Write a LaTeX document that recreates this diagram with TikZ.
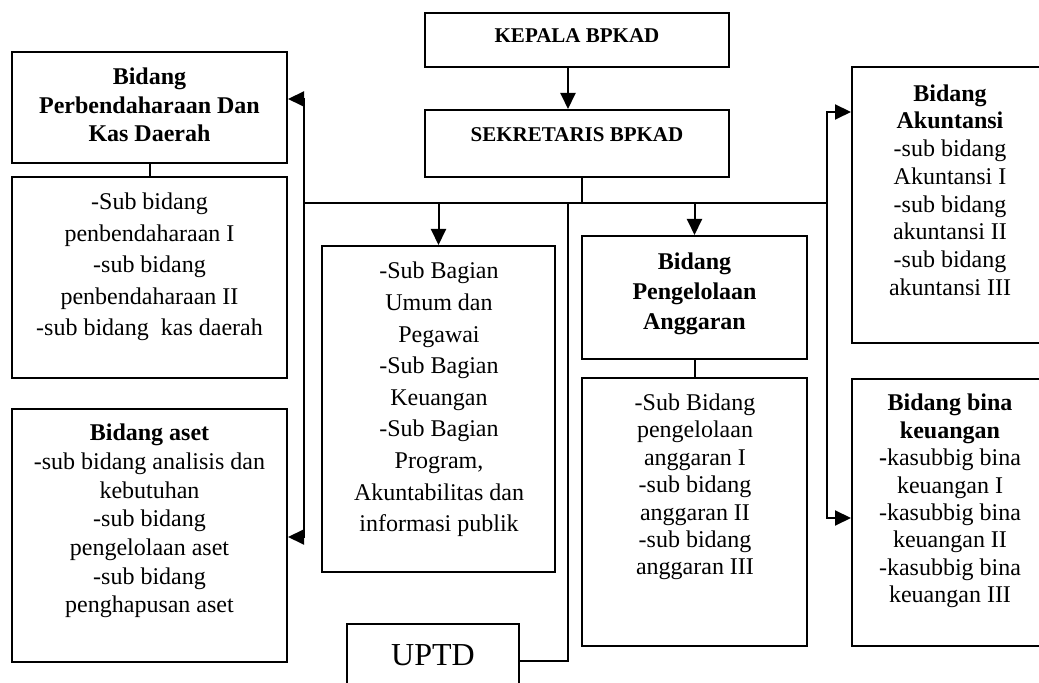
\documentclass[tikz,border=0pt]{standalone}
\usepackage{fontspec}
\setmainfont{Liberation Serif}
\usetikzlibrary{arrows.meta}
\tikzset{
    box/.style={draw, line width=1pt, inner sep=0pt},
    txt/.style={align=center, inner sep=0pt, font=\fontsize{12}{#1}\selectfont},
    txt/.default=14.4,
    head/.style={inner sep=0pt, font=\fontsize{10.5}{12}\selectfont\bfseries},
    arr/.style={line width=1pt, -{Triangle[length=8pt,width=7.5pt]}},
    lin/.style={line width=1pt}
}

\begin{document}
\begin{tikzpicture}[x=0.5pt, y=-0.5pt]
    \useasboundingbox (0,0) rectangle (1039,683);

    \node[box, minimum width=152pt, minimum height=27pt] at (577, 40)(kepala) {};
    \node[head] at (577, 35.5)(kepalaT) {KEPALA BPKAD};
    \node[box, minimum width=152pt, minimum height=33.5pt] at (577, 143.5)(sekre) {};
    \node[head] at (577, 134.5)(sekreT) {SEKRETARIS BPKAD};

    \node[box, minimum width=137.5pt, minimum height=55.5pt] at (149.5, 107.5)(perben) {};
    \node[txt=14.25] at (149.5, 105)(perbenT) {\textbf{Bidang}\\\textbf{Perbendaharaan Dan}\\\textbf{Kas Daerah}};
    \node[box, minimum width=137.5pt, minimum height=100.5pt] at (149.5, 277.5)(perbenSub) {};
    \node[txt=15.8] at (149.5, 267)(perbenSubT) {-Sub bidang\\penbendaharaan I\\-sub bidang\\penbendaharaan II\\-sub bidang~ kas daerah};

    \node[box, minimum width=137.5pt, minimum height=126.5pt] at (149.5, 535.5)(aset) {};
    \node[txt=14.35] at (149.5, 521)(asetT) {\textbf{Bidang aset}\\-sub bidang analisis dan\\kebutuhan\\-sub bidang\\pengelolaan aset\\-sub bidang\\penghapusan aset};

    \node[box, minimum width=116.5pt, minimum height=163pt] at (438.5, 409)(umum) {};
    \node[txt=15.8] at (439, 399.5)(umumT) {-Sub Bagian\\Umum dan\\Pegawai\\-Sub Bagian\\Keuangan\\-Sub Bagian\\Program,\\Akuntabilitas dan\\informasi publik};

    \node[box, minimum width=86pt, minimum height=36pt] at (433, 660)(uptd) {};
    \node[inner sep=0pt, font=\fontsize{16}{18}\selectfont] at (433, 655)(uptdT) {UPTD};

    \node[box, minimum width=112.5pt, minimum height=61.5pt] at (694.5, 297.5)(pengel) {};
    \node[txt=15] at (694.5, 293.5)(pengelT) {\textbf{Bidang}\\\textbf{Pengelolaan}\\\textbf{Anggaran}};
    \node[box, minimum width=112.5pt, minimum height=134pt] at (694.5, 512)(pengelSub) {};
    \node[txt=13.7] at (695, 487)(pengelSubT) {-Sub Bidang\\pengelolaan\\anggaran I\\-sub bidang\\anggaran II\\-sub bidang\\anggaran III};

    \node[box, minimum width=98pt, minimum height=138pt] at (950, 205)(akun) {};
    \node[txt=13.85] at (950, 190)(akunT) {\textbf{Bidang}\\\textbf{Akuntansi}\\-sub bidang\\Akuntansi I\\-sub bidang\\akuntansi II\\-sub bidang\\akuntansi III};
    \node[box, minimum width=98pt, minimum height=133.5pt] at (950, 512.5)(bina) {};
    \node[txt=13.7] at (950, 501)(binaT) {\textbf{Bidang bina}\\\textbf{keuangan}\\\textbf{-}kasubbig bina\\keuangan I\\-kasubbig bina\\keuangan II\\-kasubbig bina\\keuangan III};

    % garis penghubung
    \coordinate (busL) at (304, 203);
    \coordinate (busR) at (827, 203);
    \coordinate (tL) at (0, 99);
    \coordinate (bL) at (0, 537);
    \coordinate (tR) at (0, 112);
    \coordinate (bR) at (0, 518);
    \coordinate (kx) at (568, 0);
    \coordinate (sx) at (582, 0);
    \coordinate (up) at (568, 661);

    \draw[arr] (kepala.south -| kx) -- (sekre.north -| kx);
    \draw[lin] (sekre.south -| sx) -- (busL -| sx);
    \draw[lin] (busL) -- (busR);
    \draw[arr] (busL) |- (perben.east |- tL);
    \draw[arr] (busL) |- (aset.east |- bL);
    \draw[arr] (busR) |- (akun.west |- tR);
    \draw[arr] (busR) |- (bina.west |- bR);
    \draw[arr] (umum.north |- busL) -- (umum.north);
    \draw[arr] (pengel.north |- busL) -- (pengel.north);
    \draw[lin] (uptd.east |- up) -- (up) -- (up |- busL);
    \draw[lin] (perben.south) -- (perbenSub.north);
    \draw[lin] (pengel.south) -- (pengelSub.north);

\end{tikzpicture}
\end{document}
